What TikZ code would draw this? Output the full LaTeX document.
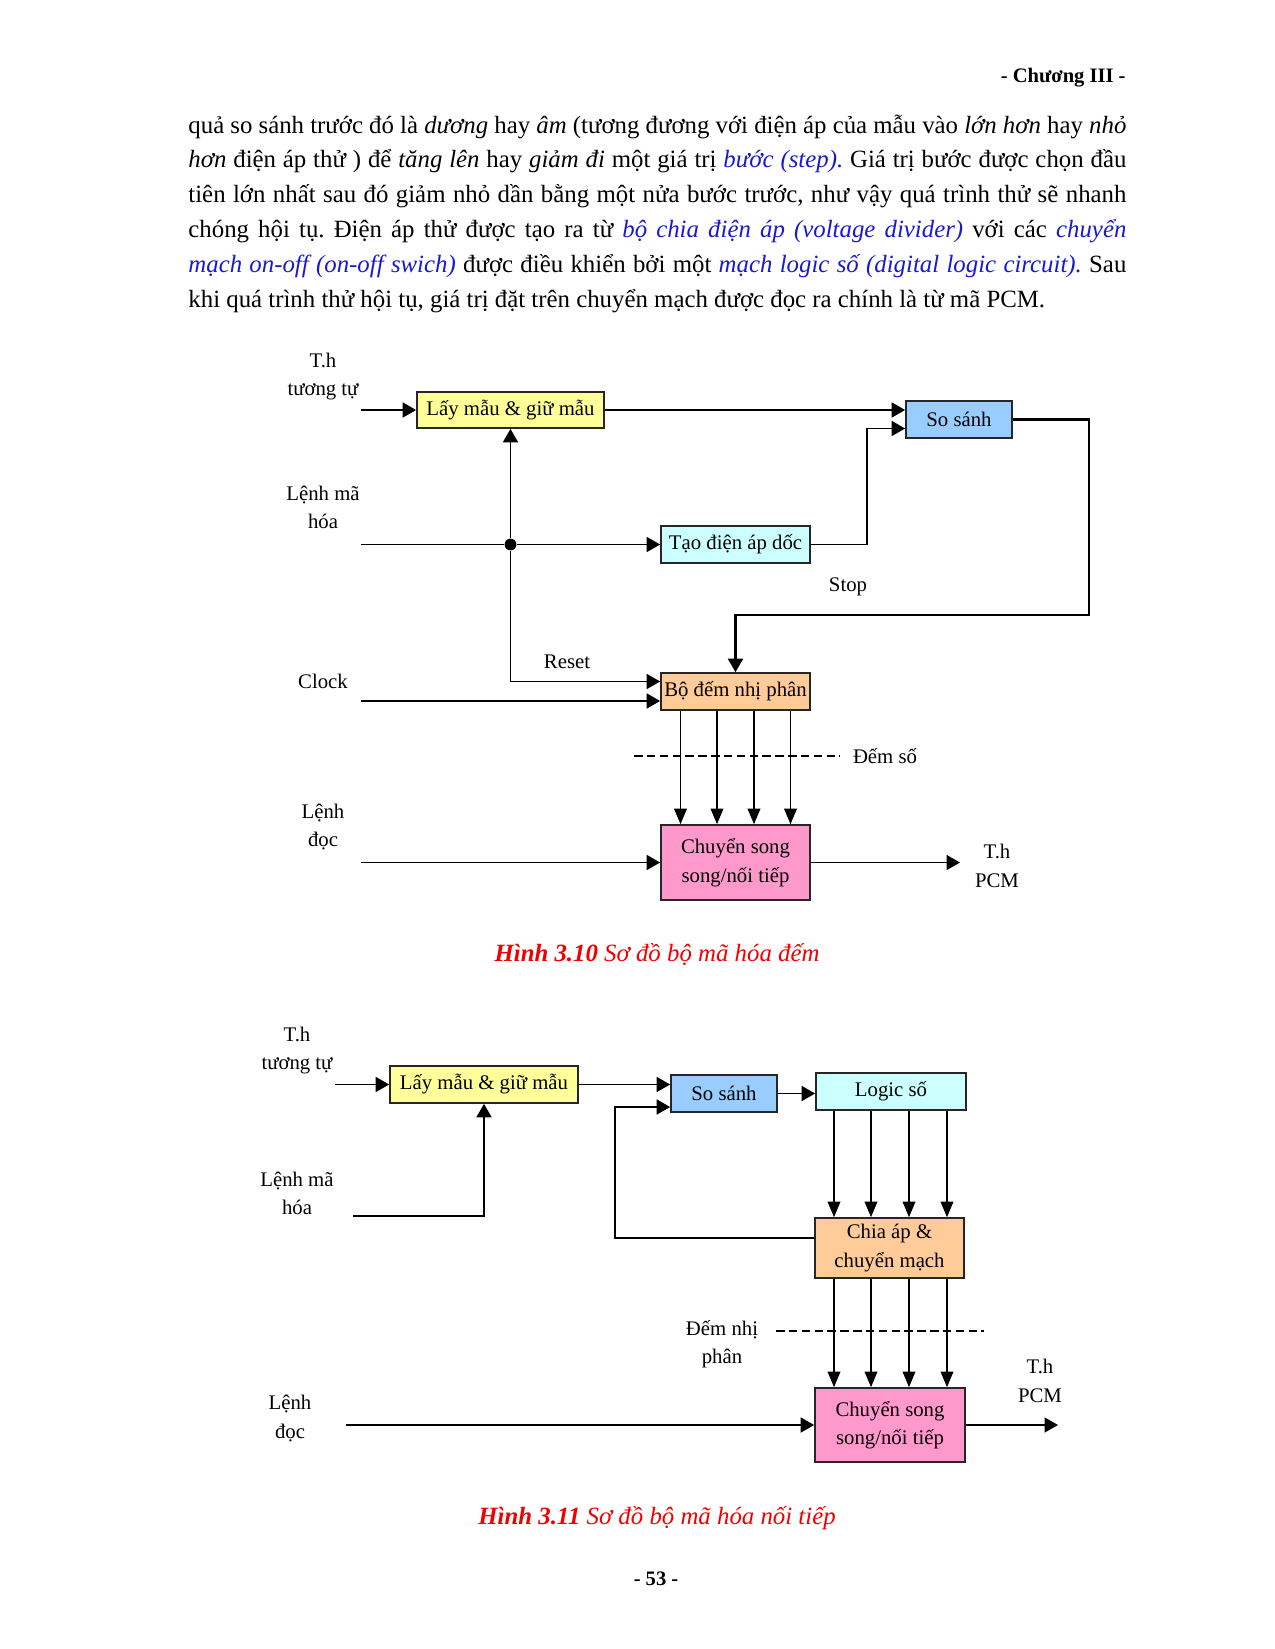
\documentclass[tikz,border=0pt]{standalone}
\usepackage{fontspec}
\setmainfont{Liberation Serif}
\usetikzlibrary{arrows.meta,positioning,calc}
\definecolor{boxyellow}{HTML}{FFFF99}
\definecolor{boxblue}{HTML}{99CCFF}
\definecolor{boxcyan}{HTML}{CCFFFF}
\definecolor{boxorange}{HTML}{FFCC99}
\definecolor{boxpink}{HTML}{FF99CC}
\definecolor{txtblue}{HTML}{1A1ACC}
\definecolor{capred}{HTML}{F00000}
\newdimen\px \px=0.4673pt
\newcommand\lblfont{\fontsize{9.7}{13.3}\selectfont}
\newcommand\bodyfont{\fontsize{11.6}{16.3}\selectfont}
\newcommand\headfont{\fontsize{9.6}{12}\selectfont\bfseries}

\begin{document}
\frenchspacing
\begin{tikzpicture}[
  x=0.4673pt, y=-0.4673pt,
  block/.style={draw=black!85, line width=0.8pt, inner sep=0pt, align=center, font=\lblfont},
  sig/.style={-{Triangle[length=6.3pt,width=7pt]}, line width=0.8pt},
  bus/.style={-{Triangle[length=7.3pt,width=6pt]}, line width=0.5pt},
  lbl/.style={font=\lblfont, align=center, inner sep=0pt},
  dot/.style={circle, fill, inner sep=0pt, minimum size=5.5pt},
  figcap/.style={font=\bodyfont\itshape, text=capred},
  sep/.style={dash pattern=on 4pt off 2pt, line width=0.6pt},
]
  \fill[white] (0,0) rectangle (1274,1649);
  \useasboundingbox (0,0) rectangle (1274,1649);

  %% Page header and text
  \node[anchor=base east, font=\headfont, inner sep=0pt] (head) at (1126,82) {- Chương III -};
  \node[anchor=base west, text width=938\px, align=justify, font=\bodyfont, inner sep=0pt] (para) at (188,133)
    {quả so sánh trước đó là \textit{dương} hay \textit{âm} (tương đương với điện áp của mẫu vào \textit{lớn hơn} hay \textit{nhỏ}\linebreak
     \textit{hơn} điện áp thử ) để \textit{tăng lên} hay \textit{giảm đi} một giá trị \textcolor{txtblue}{\textit{bước (step).}} Giá trị bước được chọn đầu\linebreak
     tiên lớn nhất sau đó giảm nhỏ dần bằng một nửa bước trước, như vậy quá trình thử sẽ nhanh\linebreak
     chóng hội tụ. Điện áp thử được tạo ra từ \textcolor{txtblue}{\textit{bộ chia điện áp (voltage divider)}} với các \textcolor{txtblue}{\textit{chuyển}}\linebreak
     \textcolor{txtblue}{\textit{mạch on-off (on-off swich)}} được điều khiển bởi một \textcolor{txtblue}{\textit{mạch logic số (digital logic circuit).}} Sau\linebreak
     khi quá trình thử hội tụ, giá trị đặt trên chuyển mạch được đọc ra chính là từ mã PCM.};

  %% Figure 3.10 -- blocks
  \node[block, fill=boxyellow, minimum width=187\px, minimum height=36\px] (lay) at (510.5,410) {Lấy mẫu \& giữ mẫu};
  \node[block, fill=boxblue, minimum width=106\px, minimum height=37\px] (sosanh) at (959,419.5) {So sánh};
  \node[block, fill=boxcyan, minimum width=149\px, minimum height=37\px] (tao) at (735.5,544.5) {Tạo điện áp dốc};
  \node[block, fill=boxorange, minimum width=149\px, minimum height=37\px] (dem) at (735.5,691.5) {Bộ đếm nhị phân};
  \node[block, fill=boxpink, minimum width=149\px, minimum height=75\px] (chuyen) at (735.5,862.5) {Chuyển song\\song/nối tiếp};

  %% Figure 3.10 -- labels
  \node[lbl] (th) at (323,376.5) {T.h\\tương tự};
  \node[lbl] (lmh) at (323,507.5) {Lệnh mã\\hóa};
  \node[lbl] (clk) at (323,681) {Clock};
  \node[lbl] (ld) at (323,827) {Lệnh\\đọc};
  \node[lbl] (stop) at (848,587) {Stop};
  \node[lbl] (reset) at (567,662) {Reset};
  \node[lbl] (demso) at (885,756) {Đếm số};
  \node[lbl] (pcm) at (997,866) {T.h\\PCM};

  \coordinate (thin) at (361,410);
  \coordinate (lmhin) at (361,544.5);
  \coordinate (clkin) at (361,701);
  \coordinate (ldin) at (361,862.5);
  \coordinate (pcmout) at (960,862.5);
  \coordinate (stopc) at (1089,615);
  \coordinate (dashl) at (634,756);

  %% Figure 3.10 -- connectors
  \draw[sig] (thin) -- (lay.west);
  \draw[sig] (lay.east) -- (lay.east -| sosanh.west);
  \draw[sig] (tao.east) -| ($(sosanh.west)+(-38,9)$) -- ($(sosanh.west)+(0,9)$);
  \node[dot] (junc) at (510.5,544.5) {};
  \draw[line width=0.8pt] (lmhin) -- (junc);
  \draw[sig] (junc) -- (tao.west);
  \draw[sig] (junc) -- (lay.south);
  \draw[sig] (junc) |- ($(dem.west)+(0,-10)$);
  \draw[sig] (clkin) -- (clkin -| dem.west);
  \draw[sig, line width=1pt] (sosanh.east) -| (stopc) -| (dem.north);
  \foreach \dx in {-55,-18.5,18.5,55}
    \draw[bus] ($(dem.south)+(\dx,0)$) -- ($(chuyen.north)+(\dx,0)$);
  \draw[sep] (dashl) -- ([xshift=-6pt]demso.west);
  \draw[sig] (ldin) -- (chuyen.west);
  \draw[sig] (chuyen.east) -- (pcmout);

  \node[figcap] (cap1) at (657,955) {\textbf{Hình 3.10} Sơ đồ bộ mã hóa đếm};

  %% Figure 3.11 -- blocks
  \node[block, fill=boxyellow, minimum width=188\px, minimum height=37\px] (lay2) at (484,1084.5) {Lấy mẫu \& giữ mẫu};
  \node[block, fill=boxblue, minimum width=106\px, minimum height=37\px] (ss2) at (724,1093.5) {So sánh};
  \node[block, fill=boxcyan, minimum width=150\px, minimum height=37\px] (logic) at (891,1091.5) {Logic số};
  \node[block, fill=boxorange, minimum width=149\px, minimum height=60\px] (chia) at (889.5,1248) {Chia áp \&\\chuyển mạch};
  \node[block, fill=boxpink, minimum width=150\px, minimum height=74\px] (chuyen2) at (890,1425) {Chuyển song\\song/nối tiếp};

  %% Figure 3.11 -- labels
  \node[lbl] (th2) at (297,1050.5) {T.h\\tương tự};
  \node[lbl] (lmh2) at (297,1193.5) {Lệnh mã\\hóa};
  \node[lbl] (ld2) at (290,1418.5) {Lệnh\\đọc};
  \node[lbl] (demnp) at (722,1344) {Đếm nhị\\phân};
  \node[lbl] (pcm2) at (1040,1381) {T.h\\PCM};

  \coordinate (thin2) at (335,1084.5);
  \coordinate (lmhin2) at (353,1216);
  \coordinate (ldin2) at (346,1425);
  \coordinate (pcmout2) at (1058,1425);
  \coordinate (fbc) at (615,1107);
  \coordinate (dashl2) at (776,1331);
  \coordinate (dashr2) at (984,1331);

  %% Figure 3.11 -- connectors
  \draw[sig] (thin2) -- (lay2.west);
  \draw[sig] (lay2.east) -- (lay2.east -| ss2.west);
  \draw[sig] (ss2.east) -- (ss2.east -| logic.west);
  \draw[sig] (lmhin2) -| (lay2.south);
  \draw[sig] ($(chia.west)+(0,-10)$) -| (fbc) -- (fbc -| ss2.west);
  \foreach \dx in {-57,-20,18,56} {
    \coordinate (bit) at ($(logic.south)+(\dx,0)$);
    \draw[bus] (bit) -- (bit |- chia.north);
    \draw[bus] (bit |- chia.south) -- (bit |- chuyen2.north);
  }
  \draw[sep] (dashl2) -- (dashr2);
  \draw[sig] (ldin2) -- (chuyen2.west);
  \draw[sig] (chuyen2.east) -- (pcmout2);

  \node[figcap] (cap2) at (657,1518) {\textbf{Hình 3.11} Sơ đồ bộ mã hóa nối tiếp};

  \node[font=\headfont] (pagenum) at (656,1579) {- 53 -};
\end{tikzpicture}
\end{document}
